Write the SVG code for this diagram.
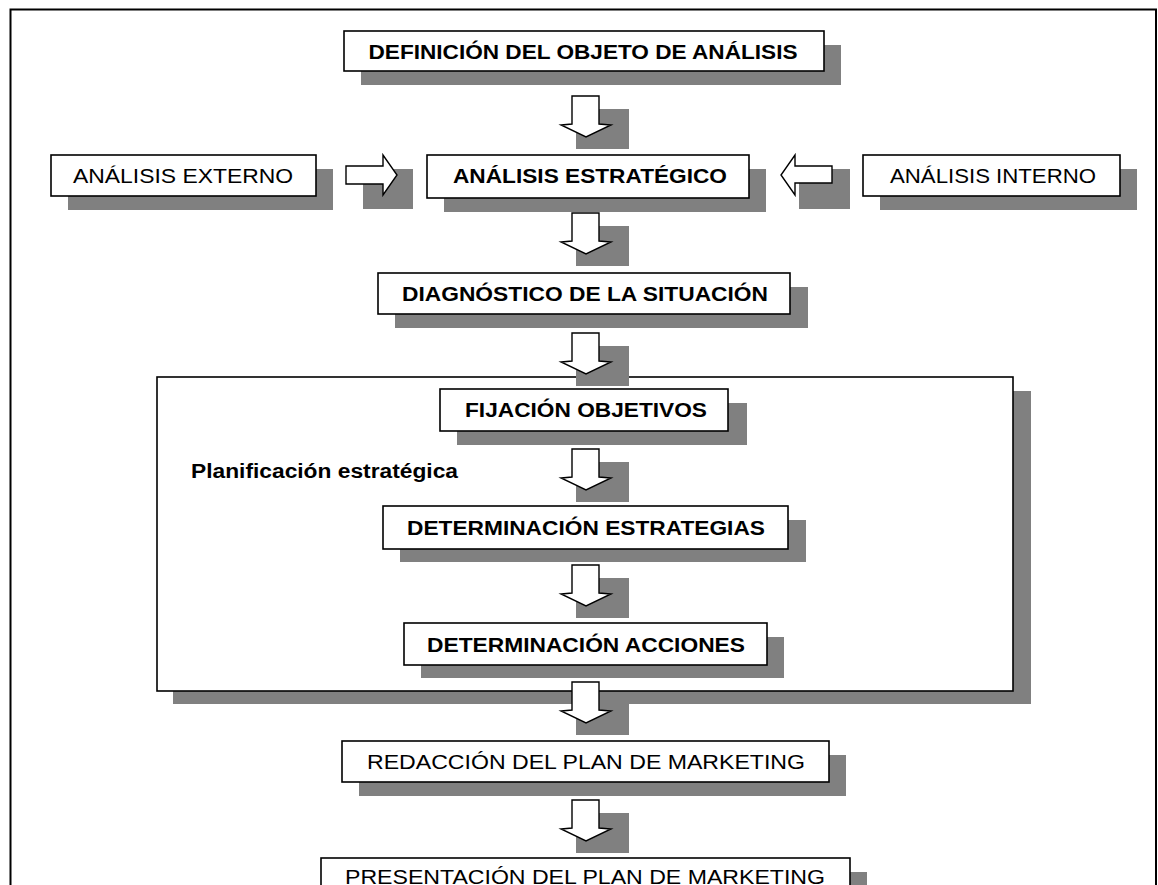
<svg xmlns="http://www.w3.org/2000/svg" width="1158" height="885" viewBox="0 0 1158 885">
<style>
.sh{fill:#808080}
.bx{fill:#fff;stroke:#000;stroke-width:1.6}
.fr{fill:none;stroke:#000;stroke-width:2}
.t{font-family:"Liberation Sans",Arial,sans-serif;font-size:19.5px;fill:#000;text-anchor:middle}
.b{font-weight:bold}
.ar{fill:#fff;stroke:#000;stroke-width:1.4;stroke-linejoin:miter}
</style>
<defs>
<g id="down"><rect class="sh" x="15" y="13" width="53" height="40"/><path class="ar" d="M11,0 H38 V28 L50,29 L25,41 L0,29 L11,28 Z"/></g>
</defs>
<rect x="0" y="0" width="1158" height="885" fill="#fff"/>
<path class="fr" d="M10.5,890 V9.5 H1156 V890"/>

<g id="planificacion">
<rect class="sh" x="173" y="391" width="858" height="313"/>
<rect class="bx" x="157" y="377" width="856" height="314"/>
<text class="t b" x="191" y="478" style="text-anchor:start" textLength="267" lengthAdjust="spacingAndGlyphs">Planificación estratégica</text>
</g>

<g id="definicion">
<rect class="sh" x="361" y="45" width="480" height="40"/>
<rect class="bx" x="344" y="31" width="480" height="40"/>
<text class="t b" x="583" y="59" textLength="429" lengthAdjust="spacingAndGlyphs">DEFINICIÓN DEL OBJETO DE ANÁLISIS</text>
</g>
<g id="externo">
<rect class="sh" x="68" y="169" width="265" height="41"/>
<rect class="bx" x="51" y="155" width="265" height="41"/>
<text class="t" x="183" y="183" textLength="220" lengthAdjust="spacingAndGlyphs">ANÁLISIS EXTERNO</text>
</g>
<g id="estrategico">
<rect class="sh" x="444" y="169" width="322" height="43"/>
<rect class="bx" x="427" y="155" width="322" height="43"/>
<text class="t b" x="590" y="183" textLength="274" lengthAdjust="spacingAndGlyphs">ANÁLISIS ESTRATÉGICO</text>
</g>
<g id="interno">
<rect class="sh" x="880" y="169" width="257" height="41"/>
<rect class="bx" x="863" y="155" width="257" height="41"/>
<text class="t" x="993" y="183" textLength="206" lengthAdjust="spacingAndGlyphs">ANÁLISIS INTERNO</text>
</g>
<g id="diagnostico">
<rect class="sh" x="395" y="287" width="413" height="41"/>
<rect class="bx" x="378" y="273" width="412" height="41"/>
<text class="t b" x="585" y="301" textLength="366" lengthAdjust="spacingAndGlyphs">DIAGNÓSTICO DE LA SITUACIÓN</text>
</g>
<g id="fijacion">
<rect class="sh" x="457" y="403" width="290" height="42"/>
<rect class="bx" x="440" y="389" width="288" height="42"/>
<text class="t b" x="586" y="417" textLength="242" lengthAdjust="spacingAndGlyphs">FIJACIÓN OBJETIVOS</text>
</g>
<g id="estrategias">
<rect class="sh" x="400" y="520" width="406" height="42"/>
<rect class="bx" x="383" y="506" width="405" height="43"/>
<text class="t b" x="586" y="535" textLength="358" lengthAdjust="spacingAndGlyphs">DETERMINACIÓN ESTRATEGIAS</text>
</g>
<g id="acciones">
<rect class="sh" x="421" y="637" width="363" height="41"/>
<rect class="bx" x="404" y="623" width="363" height="42"/>
<text class="t b" x="586" y="652" textLength="318" lengthAdjust="spacingAndGlyphs">DETERMINACIÓN ACCIONES</text>
</g>
<g id="redaccion">
<rect class="sh" x="359" y="755" width="487" height="41"/>
<rect class="bx" x="342" y="741" width="487" height="41"/>
<text class="t" x="586" y="769" textLength="438" lengthAdjust="spacingAndGlyphs">REDACCIÓN DEL PLAN DE MARKETING</text>
</g>
<g id="presentacion">
<rect class="sh" x="338" y="872" width="529" height="60"/>
<rect class="bx" x="321" y="858" width="529" height="60"/>
<text class="t" x="585" y="884" textLength="480" lengthAdjust="spacingAndGlyphs">PRESENTACIÓN DEL PLAN DE MARKETING</text>
</g>

<g id="connectors">
<use href="#down" x="561" y="96"/>
<use href="#down" x="561" y="213"/>
<use href="#down" x="561" y="333"/>
<use href="#down" x="561" y="449"/>
<use href="#down" x="561" y="565"/>
<use href="#down" x="561" y="682"/>
<use href="#down" x="561" y="800"/>
<rect class="sh" x="363" y="169" width="50" height="40"/>
<path class="ar" d="M346,166 H383 V155 L397,175 L383,195 V184 H346 Z"/>
<rect class="sh" x="799" y="169" width="51" height="40"/>
<path class="ar" d="M832,166 H795 V155 L781,175 L795,195 V183 H832 Z"/>
</g>
</svg>
